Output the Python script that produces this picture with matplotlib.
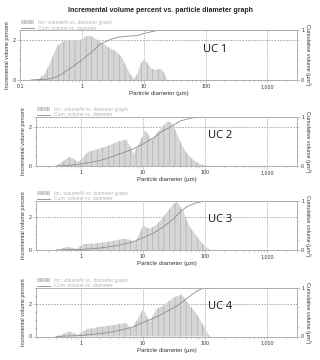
import numpy as np
import matplotlib
matplotlib.use("Agg")
import matplotlib.pyplot as plt
from matplotlib.ticker import FixedLocator, MultipleLocator, LogLocator, NullFormatter, FuncFormatter

plt.rcParams['font.family'] = ['Liberation Sans', 'DejaVu Sans']
plt.rcParams['hatch.linewidth'] = 0.4

labels = ["UC 1", "UC 2", "UC 3", "UC 4"]

# incremental volume % vs diameter (um)
d1 = [0.15, 0.2, 0.25, 0.3, 0.35, 0.4, 0.5, 0.6, 0.7, 0.8, 0.9, 1.0, 1.2, 1.4, 1.7, 2.0,
      2.5, 3.0, 3.5, 4.0, 4.5, 5.0, 6.0, 7.0, 8.0, 9.0, 10, 11.5, 13, 15, 17, 19, 21, 24]
v1 = [0, 0.05, 0.3, 0.8, 1.3, 1.7, 1.95, 2.0, 2.0, 1.98, 1.97, 2.05, 2.2, 2.2, 2.05, 1.9,
      1.7, 1.55, 1.45, 1.3, 1.1, 0.8, 0.3, 0.05, 0.35, 0.85, 1.0, 0.85, 0.6, 0.5, 0.55, 0.55, 0.4, 0.0]
d2 = [0.4, 0.5, 0.65, 0.78, 0.89, 1.0, 1.3, 1.8, 2.9, 4.0, 5.4, 6.2, 7.0, 8.5, 10.8, 12.5,
      13.8, 17, 21, 25, 30, 39, 47, 57, 70, 83, 106, 130]
v2 = [0, 0.2, 0.47, 0.35, 0.22, 0.3, 0.72, 0.84, 1.06, 1.25, 1.35, 1.0, 0.6, 1.1, 1.83, 1.55,
      1.3, 1.7, 2.05, 2.28, 2.15, 1.3, 0.8, 0.47, 0.22, 0.1, 0.02, 0]
d3 = [0.4, 0.5, 0.62, 0.75, 0.85, 1.09, 1.8, 2.9, 4.8, 6.0, 7.4, 8.5, 10, 12.8, 16.6, 20,
      25, 30, 35, 44, 57, 78, 100, 120]
v3 = [0, 0.1, 0.2, 0.12, 0.05, 0.35, 0.41, 0.52, 0.68, 0.65, 0.45, 0.9, 1.5, 1.3, 1.55, 1.9,
      2.37, 2.75, 2.98, 2.4, 1.4, 0.7, 0.2, 0]
d4 = [0.4, 0.5, 0.65, 0.75, 0.89, 1.3, 1.6, 1.8, 2.9, 4.2, 5.4, 6.5, 8.0, 10, 12.8, 16.6,
      21, 31, 42, 57, 73, 94, 115, 130]
v4 = [0, 0.12, 0.3, 0.22, 0.1, 0.47, 0.5, 0.57, 0.67, 0.78, 0.82, 0.5, 1.0, 1.7, 0.9, 1.7,
      1.9, 2.41, 2.6, 1.9, 1.4, 0.67, 0.05, 0]

# cumulative volume vs diameter
c1d = [0.15, 0.3, 0.4, 0.5, 0.7, 1.0, 1.5, 2.0, 3.0, 4.0, 6.0, 8.0, 10, 15, 20, 3000]
c1v = [0, 0.02, 0.07, 0.14, 0.26, 0.40, 0.58, 0.72, 0.82, 0.86, 0.88, 0.89, 0.93, 0.98, 1.0, 1.0]
c2d = [0.4, 0.6, 1.0, 2.0, 3.0, 5.0, 7.0, 10, 15, 20, 30, 40, 60, 90, 3000]
c2v = [0, 0.01, 0.04, 0.11, 0.18, 0.28, 0.35, 0.45, 0.58, 0.70, 0.82, 0.92, 0.98, 1.0, 1.0]
c3d = [0.4, 1.0, 2.0, 3.0, 5.0, 7.0, 10, 15, 20, 30, 40, 50, 70, 100, 3000]
c3v = [0, 0.01, 0.04, 0.07, 0.12, 0.17, 0.25, 0.35, 0.45, 0.62, 0.78, 0.88, 0.96, 1.0, 1.0]
c4d = [0.4, 1.0, 2.0, 3.0, 5.0, 7.0, 10, 15, 20, 30, 40, 50, 70, 90, 120, 3000]
c4v = [0, 0.02, 0.06, 0.09, 0.15, 0.20, 0.29, 0.38, 0.46, 0.58, 0.68, 0.78, 0.92, 0.99, 1.0, 1.0]

inc = [(d1, v1), (d2, v2), (d3, v3), (d4, v4)]
cum = [(c1d, c1v), (c2d, c2v), (c3d, c3v), (c4d, c4v)]
ymax = [2.5, 2.5, 3.0, 3.0]
xmin = [0.1, 0.19, 0.19, 0.19]

# axes boxes in pixel terms (left, top, right, bottom)
boxes = [(20, 30, 297, 80), (36, 117, 297, 166), (36, 201, 297, 250), (36, 288, 297, 336.5)]

W, H = 320, 360
fig = plt.figure(figsize=(3.2, 3.6), dpi=100)
fig.text(0.5, 1 - 10 / H, "Incremental volume percent vs. particle diameter graph",
         ha='center', va='center', fontsize=5, fontweight='bold', color='#222222')

spine_c = '#b0b0b0'
txt_c = '#333333'


def fmt(x, pos):
    if x >= 1000:
        return f"{int(x):,}"
    if x >= 1:
        return str(int(x))
    return f"{x:g}"


for i in range(4):
    l, t, r, b = boxes[i]
    ax = fig.add_axes([l / W, 1 - b / H, (r - l) / W, (b - t) / H])
    d, v = inc[i]
    ax.fill_between(d, v, 0, facecolor='#d6d6d6', edgecolor='#a6a6a6', hatch='|||',
                    linewidth=0, label='Inc. volume% vs. diameter graph')
    ax.set_xscale('log')
    ax.set_xlim(xmin[i], 3000)
    ax.set_ylim(0, ymax[i])

    ax2 = ax.twinx()
    cd, cv = cum[i]
    ax2.plot(cd, cv, color='#8c8c8c', lw=0.6, label='Cum. volume vs. diameter')
    ax2.set_ylim(0, 1)
    ax2.set_zorder(ax.get_zorder() + 1)

    for a in (ax, ax2):
        for s in a.spines.values():
            s.set_color(spine_c)
            s.set_linewidth(0.6)
        a.tick_params(colors=spine_c, labelcolor=txt_c, labelsize=3.8, length=2, width=0.5, pad=1)
        a.tick_params(which='minor', colors=spine_c, length=1.2, width=0.4)

    ax.yaxis.set_major_locator(FixedLocator([0, 2]))
    ax.yaxis.set_minor_locator(MultipleLocator(0.5))
    ax2.yaxis.set_major_locator(FixedLocator([0, 1]))
    ax2.yaxis.set_minor_locator(MultipleLocator(0.2))
    ax.xaxis.set_major_locator(LogLocator(base=10, numticks=10))
    ax.xaxis.set_major_formatter(FuncFormatter(fmt))
    ax.xaxis.set_minor_locator(LogLocator(base=10, subs=np.arange(2, 10), numticks=20))
    ax.xaxis.set_minor_formatter(NullFormatter())

    for xv in [0.1, 1, 10, 100, 1000]:
        if xv > xmin[i]:
            ax.axvline(xv, color='#a0a0a0', lw=0.5, ls=(0, (2, 1.5)), zorder=0.5)
    ax.axhline(2, color='#a0a0a0', lw=0.6, ls=(0, (2, 1.5)), zorder=0.5)

    ax.set_xlabel("Particle diameter (µm)", fontsize=4.3, color=txt_c, labelpad=1.5)
    ax.set_ylabel("Incremental volume percent", fontsize=4, color=txt_c, labelpad=2)
    ax2.set_ylabel("Cumulative volume (µm³)", fontsize=4, color=txt_c, rotation=-90, labelpad=5)

    h1, l1 = ax.get_legend_handles_labels()
    h2, l2 = ax2.get_legend_handles_labels()
    leg = ax2.legend(h1 + h2, l1 + l2, loc='lower left', bbox_to_anchor=(0.0, 0.97),
                     frameon=False, fontsize=3.6, handlelength=2.5, handleheight=0.9,
                     labelspacing=0.15, borderpad=0.1, borderaxespad=0.1, handletextpad=0.8)
    for tx in leg.get_texts():
        tx.set_color('#b5b5b5')

    ax2.text(0.66, 0.62, labels[i], transform=ax2.transAxes, fontsize=8,
             family='Open Sans', color='#111111', va='center')

fig.savefig("out.png", dpi=100)
